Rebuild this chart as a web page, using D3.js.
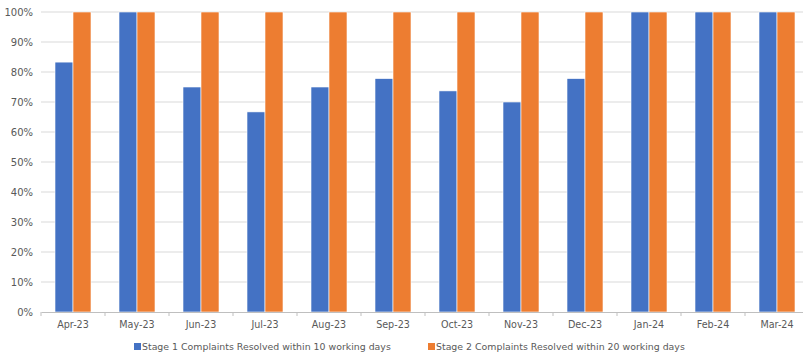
<!DOCTYPE html>
<html>
<head>
<meta charset="utf-8">
<script src="https://cdn.jsdelivr.net/npm/d3@7"></script>
<style>
  body { margin: 0; background: #fff; }
  svg text { font-family: "DejaVu Sans", Verdana, sans-serif; fill: #595959; }
</style>
</head>
<body>
<div id="chart"></div>
<script>
const months = ['Apr-23', 'May-23', 'Jun-23', 'Jul-23', 'Aug-23', 'Sep-23', 'Oct-23', 'Nov-23', 'Dec-23', 'Jan-24', 'Feb-24', 'Mar-24']
const stage1 = [83.3, 100, 75, 66.7, 75, 77.8, 73.7, 70, 77.8, 100, 100, 100]
const stage2 = [100, 100, 100, 100, 100, 100, 100, 100, 100, 100, 100, 100]
const seriesNames = ['Stage 1 Complaints Resolved within 10 working days', 'Stage 2 Complaints Resolved within 20 working days']
const colors = ['#4472c4', '#ed7d31']
const yTicks = [0, 10, 20, 30, 40, 50, 60, 70, 80, 90, 100]

const W = 803, H = 356
const margin = { top: 12, right: -6, bottom: 44, left: 41 }
const width = W - margin.left - margin.right
const height = H - margin.top - margin.bottom

const svg = d3.select('#chart').append('svg').attr('width', W).attr('height', H)
const g = svg.append('g').attr('transform', `translate(${margin.left},${margin.top})`)

const x = d3.scaleBand().domain(months).range([0, width])
const xs = d3.scaleBand().domain([0, 1]).range([0, 36])
const y = d3.scaleLinear().domain([0, 100]).range([height, 0])

// gridlines
g.append('g').selectAll('line').data(yTicks.filter(d => d > 0)).enter().append('line')
  .attr('x1', 0).attr('x2', width)
  .attr('y1', d => y(d)).attr('y2', d => y(d))
  .attr('stroke', '#d9d9d9').attr('stroke-width', 1)

// y labels
g.append('g').selectAll('text').data(yTicks).enter().append('text')
  .attr('x', -8).attr('y', d => y(d)).attr('dy', '0.35em')
  .attr('text-anchor', 'end').attr('font-size', 10)
  .text(d => d + '%')

// bars
const groups = g.selectAll('.grp').data(months).enter().append('g')
  .attr('transform', d => `translate(${x(d) + x.bandwidth() / 2 - 18},0)`)
const series = [stage1, stage2]
series.forEach((vals, si) => {
  groups.append('rect')
    .attr('x', xs(si))
    .attr('width', xs.bandwidth())
    .attr('y', (d, i) => y(vals[i]))
    .attr('height', (d, i) => height - y(vals[i]))
    .attr('fill', colors[si])
    .attr('stroke', '#fff').attr('stroke-width', 0.6)
})

// x axis
const xAxis = d3.axisBottom(x).tickSize(0).tickPadding(9)
const ax = g.append('g').attr('transform', `translate(0,${height})`).call(xAxis)
ax.select('.domain').attr('stroke', '#bfbfbf')
ax.selectAll('text').attr('font-size', 9.6).attr('fill', '#595959').attr('font-family', '"DejaVu Sans", Verdana, sans-serif')
ax.selectAll('.bnd').data(d3.range(months.length + 1)).enter().append('line')
  .attr('x1', i => i * x.step()).attr('x2', i => i * x.step())
  .attr('y1', 0).attr('y2', 4).attr('stroke', '#bfbfbf')

// legend
const legend = svg.append('g').attr('transform', `translate(0,${H - 6})`)
const legX = [134, 428]
seriesNames.forEach((name, i) => {
  legend.append('rect').attr('x', legX[i]).attr('y', -7).attr('width', 7).attr('height', 7).attr('fill', colors[i])
  legend.append('text').attr('x', legX[i] + 8).attr('y', 0).attr('font-size', 9.4).text(name)
})
</script>
</body>
</html>
